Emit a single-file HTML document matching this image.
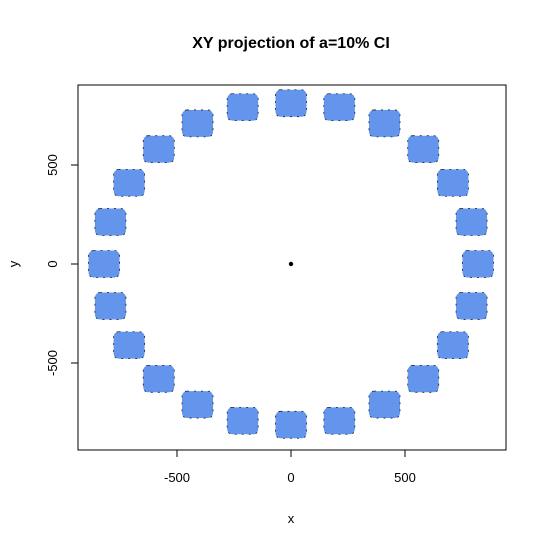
<!DOCTYPE html>
<html><head><meta charset="utf-8"><style>
body{margin:0;background:#fff;}
svg text{font-family:"Liberation Sans",Arial,sans-serif;}
</style></head><body>
<svg id="chart" width="547" height="547" xmlns="http://www.w3.org/2000/svg">
<rect width="547" height="547" fill="#fff"/>
<text x="291" y="48" text-anchor="middle" font-size="16" font-weight="bold">XY projection of a=10% CI</text>
<rect x="78" y="85" width="428" height="365" fill="none" stroke="#000" stroke-width="1"/>
<g id="marks"></g>
<g id="axes"></g>
<text x="291" y="523" text-anchor="middle" font-size="13">x</text>
<text x="18" y="264" text-anchor="middle" font-size="13" transform="rotate(-90 18 264)">y</text>
</svg>
<script>
const clusterX=[820,792,710,580,410,212,0,-212,-410,-580,-710,-792,-820,-792,-710,-580,-410,-212,0,212,410,580,710,792];
const clusterY=[0,212,410,580,710,792,812,792,710,580,410,212,0,-212,-410,-580,-710,-792,-812,-792,-710,-580,-410,-212];
const xTicks=[-500,0,500];
const yTicks=[-500,0,500];
const halfSize=68;
function sx(v){return 291+v*0.228;}
function sy(v){return 264-v*0.198;}
const NS="http://www.w3.org/2000/svg";
const marks=document.getElementById('marks');
for(let i=0;i<clusterX.length;i++){
  const r=document.createElementNS(NS,'rect');
  
  
  const x0=sx(clusterX[i]-halfSize),x1=sx(clusterX[i]+halfSize);
  const y0=sy(clusterY[i]+halfSize),y1=sy(clusterY[i]-halfSize);
  r.setAttribute('x',x0);r.setAttribute('y',y0);
  r.setAttribute('width',x1-x0);r.setAttribute('height',y1-y0);
  r.setAttribute('rx',5);
  r.setAttribute('fill','#6495ED');
  r.setAttribute('stroke','#222');r.setAttribute('stroke-width','0.8');r.setAttribute('stroke-dasharray','2 5');
  marks.appendChild(r);
}
const c=document.createElementNS(NS,'circle');


c.setAttribute('cx',sx(0));c.setAttribute('cy',sy(0));c.setAttribute('r',2.2);c.setAttribute('fill','#000');
marks.appendChild(c);
const axes=document.getElementById('axes');
function line(x1,y1,x2,y2,name){const l=document.createElementNS(NS,'line');


l.setAttribute('x1',x1);l.setAttribute('y1',y1);l.setAttribute('x2',x2);l.setAttribute('y2',y2);l.setAttribute('stroke','#000');axes.appendChild(l);}
line(sx(xTicks[0]),450,sx(xTicks[xTicks.length-1]),450,'x-axis-line');
line(78,sy(yTicks[0]),78,sy(yTicks[yTicks.length-1]),'y-axis-line');
xTicks.forEach(v=>{line(sx(v),450,sx(v),457,'x-tick');
 const t=document.createElementNS(NS,'text');
 
 
 t.setAttribute('x',sx(v));t.setAttribute('y',482);t.setAttribute('text-anchor','middle');t.setAttribute('font-size','13');t.textContent=v;axes.appendChild(t);});
yTicks.forEach(v=>{line(71,sy(v),78,sy(v),'y-tick');
 const t=document.createElementNS(NS,'text');
 
 
 const yy=sy(v);
 t.setAttribute('x',53);t.setAttribute('y',yy);t.setAttribute('text-anchor','middle');t.setAttribute('font-size','13');
 t.setAttribute('transform','rotate(-90 53 '+yy+')');t.setAttribute('dy','4');t.textContent=v;axes.appendChild(t);});
</script>
</body></html>
